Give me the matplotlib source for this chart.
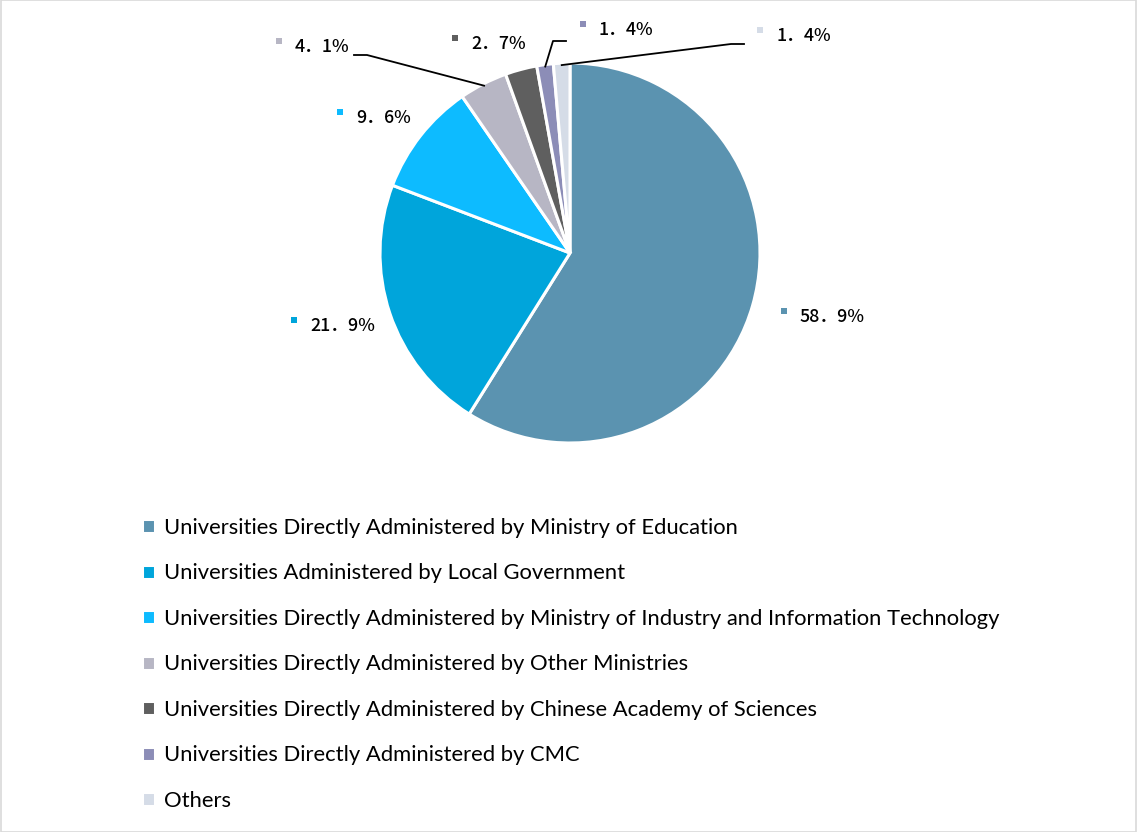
import matplotlib
matplotlib.use("Agg")
import matplotlib.pyplot as plt
import numpy as np
from matplotlib.patches import Rectangle

categories = [
    "Universities Directly Administered by Ministry of Education",
    "Universities Administered by Local Government",
    "Universities Directly Administered by Ministry of Industry and Information Technology",
    "Universities Directly Administered by Other Ministries",
    "Universities Directly Administered by Chinese Academy of Sciences",
    "Universities Directly Administered by CMC",
    "Others",
]
shares = [58.9, 21.9, 9.6, 4.1, 2.7, 1.4, 1.4]
colors = ["#5B93B0", "#00A5DB", "#0DBBFF", "#B7B6C4", "#5F5F5F", "#8C8DB7", "#D5DCE7"]

W, H = 1137, 832
CX, CY, R = 570, 253, 190

# label square positions in pixels (text follows to the right)
label_pos = [(784, 311), (294, 320), (340, 112), (279, 41), (455, 38), (583, 24), (760, 30)]
# leader line start/elbow in pixels, None where no leader is drawn
leaders = [None, None, None,
           [(354, 55), (367, 55)],
           None,
           [(566, 41), (553, 41)],
           [(744, 44), (731, 44)]]


def px(x, y):
    return (x - CX) / R, (CY - y) / R


fig = plt.figure(figsize=(W / 100, H / 100), dpi=100)
ax = fig.add_axes([0, 0, 1, 1])
ax.axis("off")

wedges, _ = ax.pie(shares, colors=colors, startangle=90, counterclock=False,
                   radius=1.0, center=(0, 0),
                   wedgeprops=dict(edgecolor="white", linewidth=2.2))
ax.set_xlim(-CX / R, (W - CX) / R)
ax.set_ylim((CY - H) / R, CY / R)
ax.set_aspect("equal")

for i, (v, c) in enumerate(zip(shares, colors)):
    sx, sy = px(*label_pos[i])
    ax.plot([sx], [sy], marker="s", markersize=5, color=c, markeredgewidth=0)
    tx, ty = px(label_pos[i][0] + 16, label_pos[i][1] + 6)
    ax.text(tx, ty, f"{v:.1f}%".replace(".", "．"), ha="left", va="center",
            fontsize=12.8, color="black", fontweight="medium",
            family=["Noto Sans CJK JP", "DejaVu Sans"])
    if leaders[i] is not None:
        w = wedges[i]
        mid = np.deg2rad((w.theta1 + w.theta2) / 2)
        pts = [px(*p) for p in leaders[i]] + [(np.cos(mid) * 0.99, np.sin(mid) * 0.99)]
        xs, ys = zip(*pts)
        ax.plot(xs, ys, color="black", linewidth=1.3, zorder=3)

ax.legend(wedges, categories, loc="upper left",
          bbox_to_anchor=(142 / W, 1 - 518 / H), bbox_transform=fig.transFigure,
          frameon=False, prop={"family": "Lato", "size": 15.8},
          handlelength=0.6, handleheight=0.6, handletextpad=0.4,
          labelspacing=1.16, borderpad=0, borderaxespad=0)

fig.patches.append(Rectangle((0.0005, 0.0005), 0.999, 0.999, transform=fig.transFigure,
                             fill=False, edgecolor="#D9D9D9", linewidth=1.2))

fig.savefig("out.png", dpi=100, facecolor="white")
